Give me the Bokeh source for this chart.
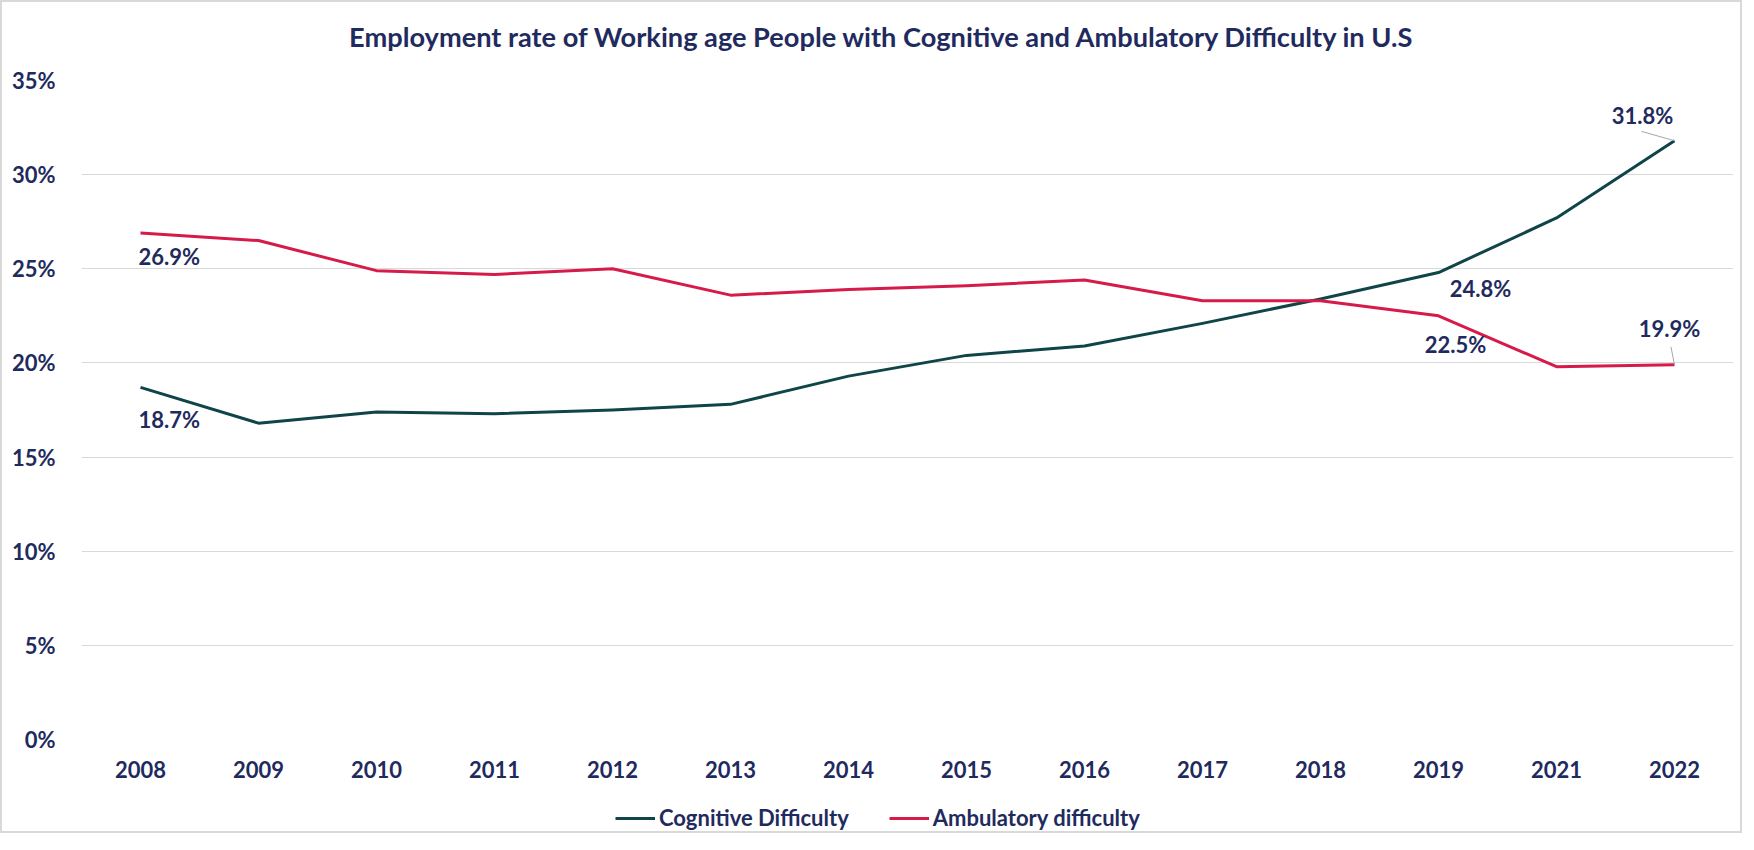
from bokeh.plotting import figure
from bokeh.models import (ColumnDataSource, LabelSet, Label, Legend, LegendItem, Range1d,
                          FixedTicker, PrintfTickFormatter)
from bokeh.layouts import column
from bokeh.core.properties import value
from bokeh.transform import dodge
from bokeh.embed import file_html
from bokeh.resources import INLINE

# ---- data ----
years = ["2008", "2009", "2010", "2011", "2012", "2013", "2014",
         "2015", "2016", "2017", "2018", "2019", "2021", "2022"]
cognitive = [18.7, 16.8, 17.4, 17.3, 17.5, 17.8, 19.3,
             20.4, 20.9, 22.1, 23.4, 24.8, 27.7, 31.8]
ambulatory = [26.9, 26.5, 24.9, 24.7, 25.0, 23.6, 23.9,
              24.1, 24.4, 23.3, 23.3, 22.5, 19.8, 19.9]
y_ticks = [0, 5, 10, 15, 20, 25, 30, 35]
series_names = ["Cognitive Difficulty", "Ambulatory difficulty"]
title_text = "Employment rate of Working age People with Cognitive and Ambulatory Difficulty in U.S"

# ---- styles ----
TEXT = "#1F2B5E"
TEAL = "#0F4448"
RED = "#D61A4A"
GRID = "#D9D9D9"
FONT = "Lato"
FS = "22px"
W = 1738
ML = 79
MR = 7
TH = 56      # title strip height
LH = 46      # legend strip height


def strip(h, x_range=None):
    f = figure(width=W, height=h, x_range=x_range or Range1d(0, W - ML - MR), y_range=Range1d(0, h),
               output_backend="svg", toolbar_location=None,
               x_axis_type=None, y_axis_type=None,
               min_border_left=ML, min_border_right=MR, min_border_top=0, min_border_bottom=0)
    f.outline_line_color = None
    f.xgrid.grid_line_color = None
    f.ygrid.grid_line_color = None
    return f


# ---- title strip ----
tt = strip(TH)
tt.add_layout(Label(x=801, y=22, text=title_text, text_align="center", text_baseline="middle",
                    text_font=FONT, text_font_size="27.2px", text_font_style="bold",
                    text_color=TEXT))

# ---- main chart ----
p = figure(x_range=years, y_range=Range1d(0, 35), width=W, height=727,
           output_backend="svg", toolbar_location=None,
           min_border_left=ML, min_border_right=MR, min_border_top=22, min_border_bottom=46)
p.x_range.range_padding = 0
p.outline_line_color = None

src = ColumnDataSource(dict(year=years, cog=cognitive, amb=ambulatory))
p.line("year", "cog", source=src, line_color=TEAL, line_width=3, line_join="round")
p.line("year", "amb", source=src, line_color=RED, line_width=3, line_join="round")

for ax in (p.xaxis[0], p.yaxis[0]):
    ax.axis_line_color = None
    ax.major_tick_line_color = None
    ax.minor_tick_line_color = None
    ax.major_label_text_font = FONT
    ax.major_label_text_font_style = "bold"
    ax.major_label_text_font_size = FS
    ax.major_label_text_color = TEXT
p.yaxis.ticker = FixedTicker(ticks=y_ticks)
p.yaxis.formatter = PrintfTickFormatter(format="%d%%")
p.yaxis.major_label_standoff = 20
p.xaxis.major_label_standoff = 15
p.xgrid.grid_line_color = None
p.ygrid.ticker = FixedTicker(ticks=y_ticks)
p.ygrid.grid_line_color = GRID
p.ygrid.grid_line_width = 1

# data labels (first, 2019 and last points)
idx = [0, 11, 13]
lab_x = [years[i] for i in idx] * 2
lab_y = [cognitive[i] for i in idx] + [ambulatory[i] for i in idx]
lab_t = [f"{v:.1f}%" for v in lab_y]
lab_dx = [-2, 42, -32, -2, 17, -5]
lab_dy = [-32, -16, 25, -23, -29, 36]
lab_align = ["left", "center", "center", "left", "center", "center"]
lsrc = ColumnDataSource(dict(x=lab_x, y=lab_y, t=lab_t, dx=lab_dx, dy=lab_dy, al=lab_align))
p.add_layout(LabelSet(x="x", y="y", text="t", source=lsrc, x_offset="dx", y_offset="dy",
                      text_align="al", text_baseline="middle", text_font=value(FONT),
                      text_font_style="bold", text_font_size=FS, text_color=TEXT))

# leader lines for the last points
p.segment(x0=dodge("x", 0.0, range=p.x_range), y0="y",
          x1=dodge("x", -0.28, range=p.x_range), y1="y1",
          source=ColumnDataSource(dict(x=[years[13]], y=[cognitive[13]], y1=[cognitive[13] + 0.5])),
          line_color="#A6A6A6", line_width=1)
p.segment(x0=dodge("x", 0.0, range=p.x_range), y0="y",
          x1=dodge("x", -0.03, range=p.x_range), y1="y1",
          source=ColumnDataSource(dict(x=[years[13]], y=[ambulatory[13]], y1=[ambulatory[13] + 0.95])),
          line_color="#A6A6A6", line_width=1)

# ---- legend strip ----
lg = figure(width=W, height=LH, x_range=p.x_range, y_range=Range1d(0, 1),
            output_backend="svg", toolbar_location=None,
            x_axis_type=None, y_axis_type=None,
            min_border_left=ML, min_border_right=MR, min_border_top=0, min_border_bottom=0)
lg.outline_line_color = None
lg.xgrid.grid_line_color = None
lg.ygrid.grid_line_color = None
d1 = lg.line("year", "cog", source=src, line_color=TEAL, line_width=3)   # outside strip's y-range
d2 = lg.line("year", "amb", source=src, line_color=RED, line_width=3)
lg.add_layout(Legend(items=[LegendItem(label=series_names[0], renderers=[d1]),
                            LegendItem(label=series_names[1], renderers=[d2])],
                     orientation="horizontal", location=(534, 0),
                     glyph_width=40, glyph_height=20, label_standoff=4, spacing=40,
                     padding=3, margin=0, border_line_color=None, background_fill_alpha=0,
                     label_text_font=FONT, label_text_font_style="bold",
                     label_text_font_size=FS, label_text_color=TEXT))

layout = column(tt, p, lg, spacing=0, styles={"border": "2px solid #D9D9D9"})
open("out.html", "w").write(file_html(layout, INLINE))
